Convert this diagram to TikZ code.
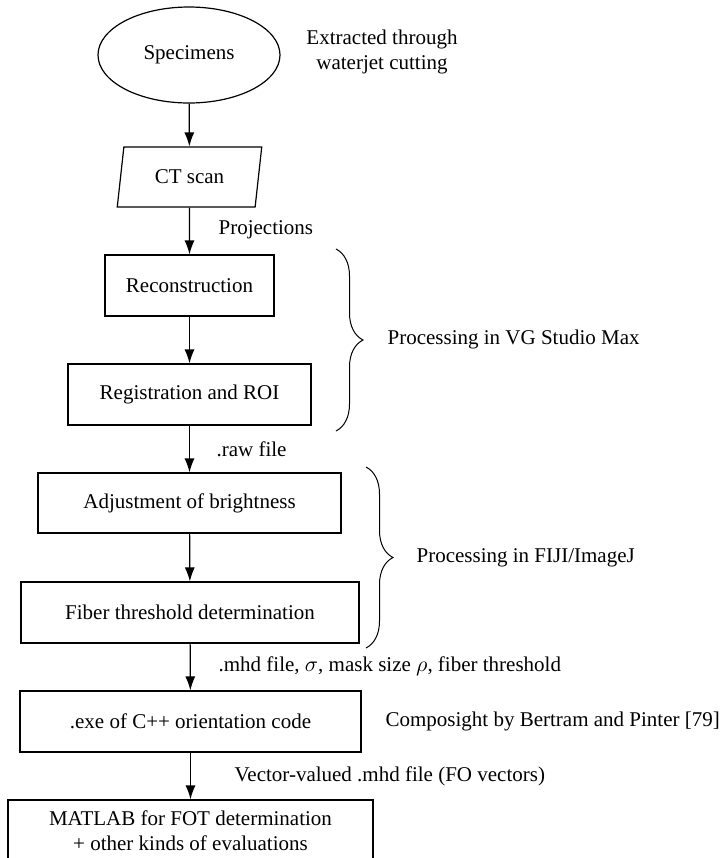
\documentclass[tikz,border=0pt]{standalone}
\usepackage{fontspec}
\setmainfont{Liberation Serif}
\usetikzlibrary{shapes.geometric,arrows.meta,decorations.pathreplacing}

\begin{document}
\begin{tikzpicture}[x=0.5pt,y=-0.5pt,
        font=\fontsize{10.5}{12.5}\selectfont,
        line width=0.6pt,
        >={Latex[length=7pt,width=5pt]},
        box/.style={draw, rectangle, inner sep=2pt, minimum height=30.5pt},
        lbl/.style={anchor=west, inner sep=0pt},
        grp/.style={decorate, decoration={brace, amplitude=13.5pt}}]
    \useasboundingbox (0,0) rectangle (723,858);

    % main chain
    \node[draw, ellipse, inner sep=0pt, minimum width=91pt, minimum height=48pt] at (189,55) (spec) {Specimens};
    \node[draw, trapezium, trapezium left angle=80, trapezium right angle=100, trapezium stretches=true,
          inner sep=2pt, minimum width=72.5pt, minimum height=30pt] at (189.5,177) (ct) {CT scan};
    \node[box, minimum width=84.5pt] at (189.5,285.5) (recon) {Reconstruction};
    \node[box, minimum width=121.5pt] at (189.5,394.5) (reg) {Registration and ROI};
    \node[box, minimum width=151.5pt, minimum height=30pt] at (189.5,503) (adj) {Adjustment of brightness};
    \node[box, minimum width=169pt] at (190,612.5) (fiber) {Fiber threshold determination};
    \node[box, minimum width=170.5pt] at (190.5,721.5) (exe) {.exe of C++ orientation code};
    \node[box, minimum width=182.5pt, minimum height=31pt, align=center] at (190.5,831) (matlab)
        {MATLAB for FOT determination\\+ other kinds of evaluations};

    \draw[->] (spec) -- (ct);
    \draw[->] (ct) -- (recon);
    \draw[->] (recon) -- (reg);
    \draw[->] (reg) -- (adj);
    \draw[->] (adj) -- (fiber);
    \draw[->] (fiber) -- (exe);
    \draw[->] (exe) -- (matlab);

    % side notes
    \node[align=center, inner sep=0pt] at (382,52) (cut) {Extracted through\\waterjet cutting};
    \node[lbl] at (218,230) (proj) {Projections};
    \node[lbl] at (216,449) (raw) {.raw file};
    \node[lbl] at (218,666) (mhd) {.mhd file, $\sigma$, mask size $\rho$, fiber threshold};
    \node[lbl] at (385,721) (comp) {Composight by Bertram and Pinter [79]};
    \node[lbl] at (234,776) (vec) {Vector-valued .mhd file (FO vectors)};

    % software groups
    \coordinate (vgtop) at (336,249);
    \coordinate (vgbot) at (336,431);
    \coordinate (fijitop) at (366,467);
    \coordinate (fijibot) at (366,648);
    \draw[grp, line width=0.5pt] (vgtop) -- (vgbot);
    \draw[grp, line width=0.5pt] (fijitop) -- (fijibot);
    \node[lbl] at (387,339) (vg) {Processing in VG Studio Max};
    \node[lbl] at (416,558) (fiji) {Processing in FIJI/ImageJ};
\end{tikzpicture}
\end{document}
